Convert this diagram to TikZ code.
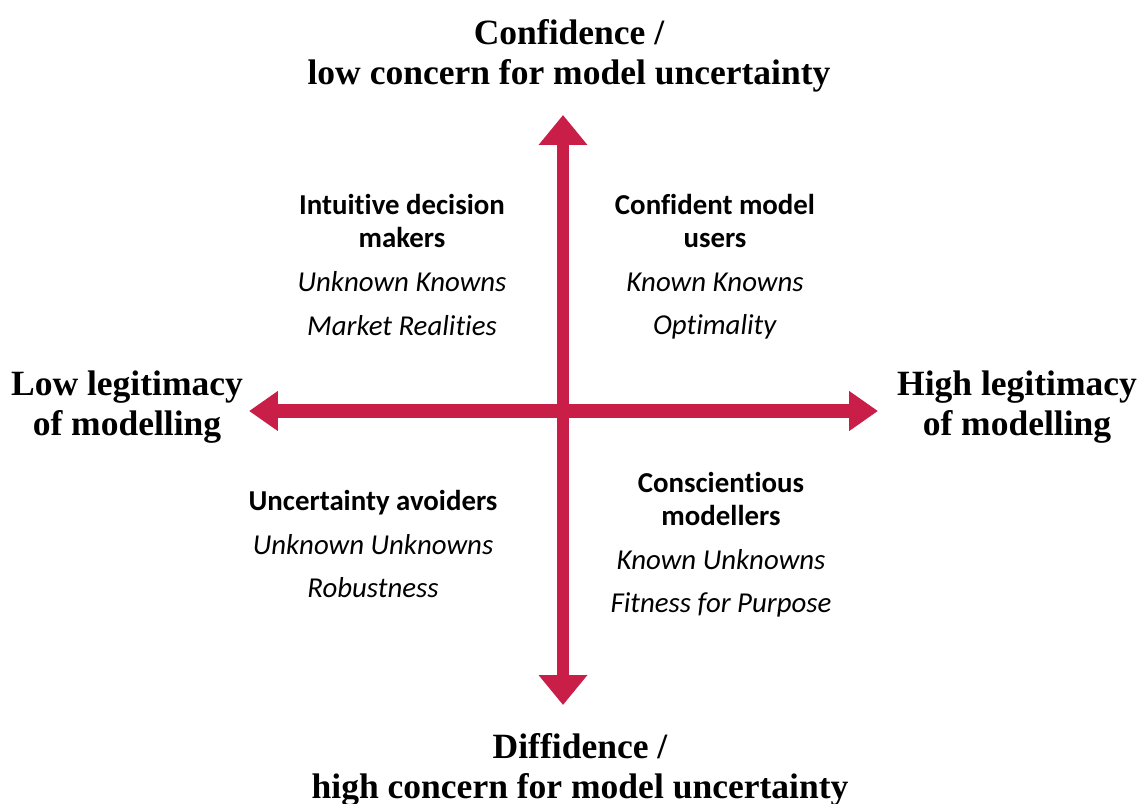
\documentclass[tikz,border=0pt]{standalone}
\usepackage{fontspec}
\setmainfont{Carlito}[Ligatures={NoCommon,NoRare,NoContextual}, RawFeature={-liga;-clig;-calt;-dlig}]
\newfontfamily\axisfont{Liberation Serif}
\usetikzlibrary{arrows.meta}
\definecolor{axisred}{RGB}{200,30,72}

\begin{document}
\begin{tikzpicture}[x=0.01cm, y=-0.01cm,
    vaxis/.style={axisred, line width=3.5pt, {Triangle[width=13.3pt,length=8.5pt]}-{Triangle[width=13.3pt,length=8.5pt]}},
    haxis/.style={axisred, line width=4pt, {Triangle[width=10.8pt,length=8.2pt]}-{Triangle[width=10.8pt,length=8.2pt]}},
    axislabel/.style={align=center, inner sep=0pt, font=\axisfont\bfseries\fontsize{10.1}{11.3}\selectfont},
    quadtext/.style={align=center, inner sep=0pt, font=\fontsize{8.2}{9.4}\selectfont}]

    \useasboundingbox (0,0) rectangle (1140,803);

    % axes
    \coordinate (top) at (563,115);
    \coordinate (bottom) at (563,705);
    \coordinate (left) at (249,411);
    \coordinate (right) at (878,411);

    \draw[vaxis] (bottom) -- (top);
    \draw[haxis] (left) -- (right);

    % axis labels
    \node[axislabel] (conf) at (569,56) {Confidence /\\low concern for model uncertainty};
    \node[axislabel] (diff) at (580,770) {Diffidence /\\high concern for model uncertainty};
    \node[axislabel] (lowleg) at (127,407) {Low legitimacy\\of modelling};
    \node[axislabel] (highleg) at (1017,407) {High legitimacy\\of modelling};

    % quadrants
    \node[quadtext] (intuitive) at (402,265) {\textbf{Intuitive decision}\\\textbf{makers}\\[3pt]\textit{Unknown Knowns}\\[3pt]\textit{Market Realities}};
    \node[quadtext] (confident) at (715,267) {\textbf{Confident model}\\\textbf{users}\\[3pt]\textit{Known Knowns}\\[3pt]\textit{Optimality}};
    \node[quadtext] (avoiders) at (373,544) {\textbf{Uncertainty avoiders}\\[3pt]\textit{Unknown Unknowns}\\[3pt]\textit{Robustness}};
    \node[quadtext] (conscientious) at (721,545) {\textbf{Conscientious}\\\textbf{modellers}\\[3pt]\textit{Known Unknowns}\\[3pt]\textit{Fitness for Purpose}};

\end{tikzpicture}
\end{document}
